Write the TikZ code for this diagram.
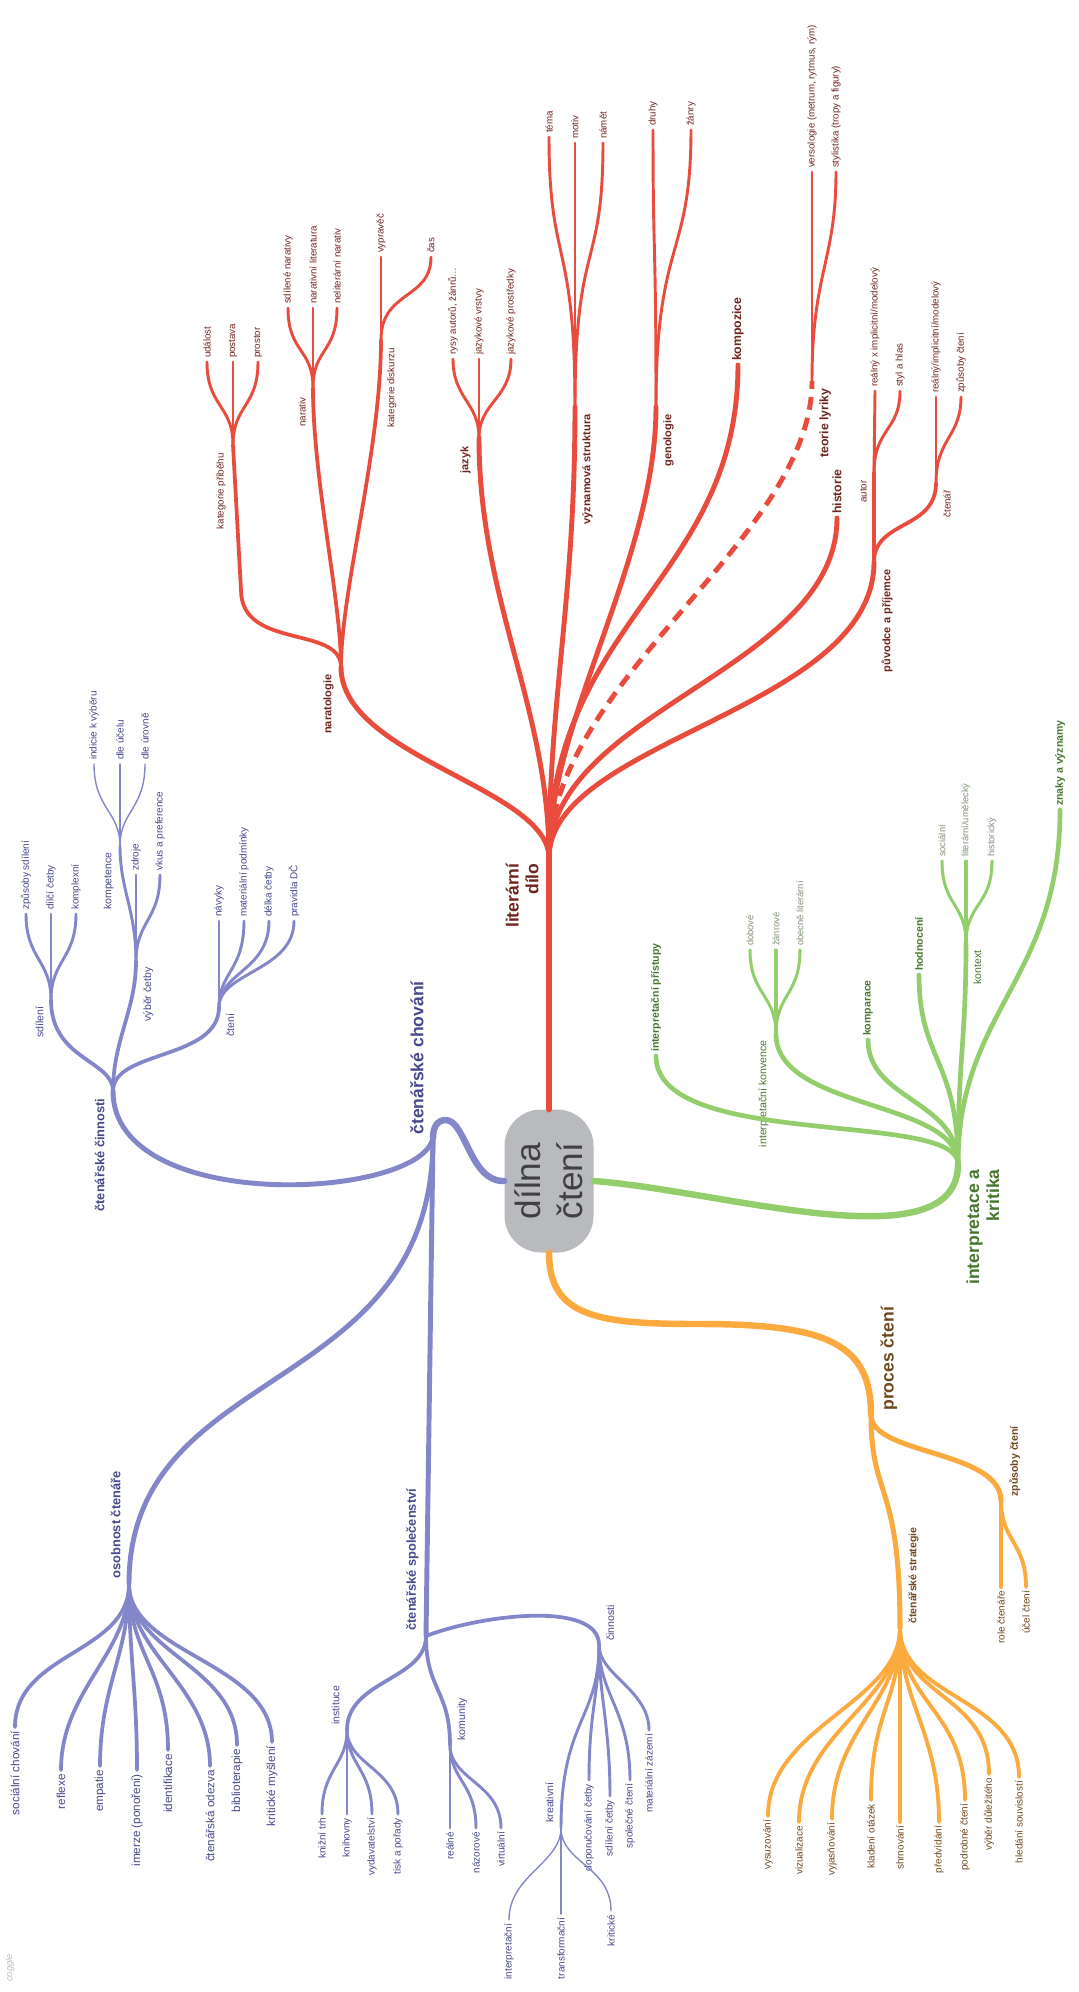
\documentclass[tikz,border=0pt]{standalone}
\usepackage{fontspec}
\setmainfont{Liberation Sans}
\usetikzlibrary{positioning}

\definecolor{litred}{RGB}{233,76,60}
\definecolor{littext}{RGB}{112,36,30}
\definecolor{chovline}{RGB}{131,135,201}
\definecolor{chovtext}{RGB}{72,72,140}
\definecolor{intline}{RGB}{148,206,108}
\definecolor{inttext}{RGB}{72,118,46}
\definecolor{intleaf}{RGB}{128,146,118}
\definecolor{procline}{RGB}{250,170,62}
\definecolor{proctext}{RGB}{110,72,30}
\definecolor{hubfill}{RGB}{184,186,190}
\definecolor{hubtext}{RGB}{64,64,66}

\begin{document}
\begin{tikzpicture}[x=0.3mm, y=-0.3mm,
    txt/.style={rotate=90, inner sep=1pt},
    txtup/.style={txt, anchor=west, outer sep=2.5pt},
    txtdown/.style={txt, anchor=east, outer sep=2.5pt},
    hubbox/.style={fill=hubfill, rounded corners=11mm, minimum width=26.7mm, minimum height=42.9mm, inner sep=0pt},
    hubtxt/.style={rotate=90, text=hubtext, align=center, font=\fontsize{30}{36}\selectfont},
    mainlab/.style={txt, align=right, font=\bfseries\fontsize{15}{17}\selectfont},
    % lines
    redtrunk/.style={draw=litred, line width=5.5pt, line cap=round},
    redmain/.style={draw=litred, line width=4.2pt, line cap=round},
    redsub/.style={draw=litred, line width=3.2pt, line cap=round},
    redtwig/.style={draw=litred, line width=2.5pt, line cap=round},
    chovmain/.style={draw=chovline, line width=5.5pt, line cap=round},
    chovbranch/.style={draw=chovline, line width=4.2pt, line cap=round},
    chovsub/.style={draw=chovline, line width=3.2pt, line cap=round},
    chovtwig/.style={draw=chovline, line width=2.5pt, line cap=round},
    chovthin/.style={draw=chovline, line width=1.2pt, line cap=round},
    intmain/.style={draw=intline, line width=5.5pt, line cap=round},
    intbranch/.style={draw=intline, line width=4pt, line cap=round},
    inttwig/.style={draw=intline, line width=2.6pt, line cap=round},
    procmain/.style={draw=procline, line width=5.5pt, line cap=round},
    procbranch/.style={draw=procline, line width=4.3pt, line cap=round},
    proctwig/.style={draw=procline, line width=3.3pt, line cap=round},
    % texts
    redhead/.style={txt, text=littext, font=\bfseries\fontsize{9.4}{11}\selectfont},
    redbig/.style={txtup, text=littext, font=\bfseries\fontsize{10.5}{12}\selectfont},
    redmid/.style={txt, text=littext, font=\fontsize{8.3}{10}\selectfont},
    redleaf/.style={txtup, text=littext, font=\fontsize{8.3}{10}\selectfont},
    chovhead/.style={txt, text=chovtext, font=\bfseries\fontsize{11}{13}\selectfont},
    chovmid/.style={txt, text=chovtext, font=\fontsize{9}{11}\selectfont},
    chovleaf/.style={txtup, text=chovtext, font=\fontsize{8.5}{10}\selectfont},
    chovhang/.style={txtdown, text=chovtext, font=\fontsize{8.5}{10}\selectfont},
    chovbig/.style={txtdown, text=chovtext, font=\fontsize{10}{12}\selectfont},
    inthead/.style={txtup, text=inttext, font=\bfseries\fontsize{9}{11}\selectfont},
    intmid/.style={txt, text=inttext, font=\fontsize{9}{11}\selectfont},
    intleaftxt/.style={txtup, text=intleaf, font=\fontsize{8}{9.5}\selectfont},
    prochead/.style={txt, text=proctext, font=\bfseries\fontsize{9}{11}\selectfont},
    procleaf/.style={txtdown, text=proctext, font=\fontsize{8.5}{10}\selectfont}
]
\useasboundingbox (0,0) rectangle (1078,1992);

% centre
\node[hubbox] (hub)  at (549,1181) {};
\node[hubtxt] (hubT) at (hub.center) {dílna\\čtení};

% ---------------- literární dílo ----------------
\coordinate (root)   at (549,858);
\coordinate (narat)  at (341,667);
\coordinate (kprib)  at (233,445);
\coordinate (kpbend) at (241,590);
\coordinate (narativ) at (313,388);
\coordinate (kdisk)  at (381,340);
\coordinate (jazyk)  at (479,438);
\coordinate (vyzn)   at (575,407);
\coordinate (genol)  at (656,407);
\coordinate (teorie) at (812,381);
\coordinate (puvod)  at (874,562);
\coordinate (autor)  at (874,473);
\coordinate (ctenar) at (936,483);

\node[mainlab, text=littext, anchor=south east] (litL) at (540,862) {literární\\dílo};
\node[redhead, anchor=south east] (naratL) at (335,673) {naratologie};
\node[redmid, anchor=south east] (kpribL) at (227,452) {kategorie příběhu};
\node[redmid, anchor=south east] (narativL) at (307,396) {narativ};
\node[redmid, anchor=north east] (kdiskL) at (386,347) {kategorie diskurzu};
\node[redhead, anchor=south east] (jazykL) at (472,445) {jazyk};
\node[redhead, anchor=north east] (vyznL) at (581,413) {významová struktura};
\node[redhead, anchor=north east] (genolL) at (662,413) {genologie};
\node[redhead, font=\bfseries\fontsize{10.5}{12}\selectfont, anchor=north east] (teorieL) at (818,387) {teorie lyriky};
\node[redhead, anchor=north east] (puvodL) at (880,568) {původce a příjemce};
\node[redmid, anchor=south east] (autorL) at (868,479) {autor};
\node[redmid, anchor=north east] (ctenarL) at (942,489) {čtenář};
\node[redbig] (kompoz) at (738,365) {kompozice};
\node[redbig] (hist)   at (837,518) {historie};

\node[redleaf] (udal)   at (207,362) {událost};
\node[redleaf] (post)   at (233,362) {postava};
\node[redleaf] (prost)  at (258,362) {prostor};
\node[redleaf] (sdnar)  at (288,308) {sdílené narativy};
\node[redleaf] (narlit) at (313,308) {narativní literatura};
\node[redleaf] (nelit)  at (337,308) {neliterární narativ};
\node[redleaf] (vypr)   at (381,257) {vypravěč};
\node[redleaf] (cas)    at (431,257) {čas};
\node[redleaf] (rysy)   at (453,359) {rysy autorů, žánrů…};
\node[redleaf] (vrstvy) at (479,359) {jazykové vrstvy};
\node[redleaf] (prostr) at (511,359) {jazykové prostředky};
\node[redleaf] (tema)   at (549,137) {téma};
\node[redleaf] (motiv)  at (575,143) {motiv};
\node[redleaf] (namet)  at (603,143) {námět};
\node[redleaf] (druhy)  at (653,130) {druhy};
\node[redleaf] (zanry)  at (691,130) {žánry};
\node[redleaf] (verso)  at (812,172) {versologie (metrum, rytmus, rým)};
\node[redleaf] (styl)   at (836,172) {stylistika (tropy a figury)};
\node[redleaf] (realA)  at (875,391) {reálný x implicitní/modelový};
\node[redleaf] (hlas)   at (900,391) {styl a hlas};
\node[redleaf] (realC)  at (936,397) {reálný/implicitní/modelový};
\node[redleaf] (zpusC)  at (961,397) {způsoby čtení};

\draw[redtrunk] (hub.north) -- (root);
\draw[redmain] (root) .. controls (549,788) and (341,757) .. (narat);
\draw[redmain] (root) .. controls (549,708) and (479,600) .. (jazyk);
\draw[redmain] (root) .. controls (549,700) and (575,600) .. (vyzn);
\draw[redmain] (root) .. controls (549,720) and (656,560) .. (genol);
\draw[redmain] (root) .. controls (549,620) and (738,580) .. (kompoz.west);
\draw[redmain, line cap=butt, dash pattern=on 11pt off 7pt] (root) .. controls (549,680) and (812,540) .. (teorie);
\draw[redmain] (root) .. controls (549,710) and (837,670) .. (hist.west);
\draw[redmain] (root) .. controls (549,740) and (874,710) .. (puvod);

\draw[redsub] (narat) .. controls (341,625) and (241,650) .. (kpbend) -- (kprib);
\draw[redsub] (narat) .. controls (341,600) and (313,480) .. (narativ);
\draw[redsub] (narat) .. controls (341,590) and (381,450) .. (kdisk);
\draw[redsub] (puvod) -- (autor);
\draw[redsub] (puvod) .. controls (874,520) and (936,530) .. (ctenar);

\draw[redtwig] (kprib) .. controls +(0,-40) and +(0,45) .. (udal.west);
\draw[redtwig] (kprib) -- (post.west);
\draw[redtwig] (kprib) .. controls +(0,-40) and +(0,45) .. (prost.west);
\draw[redtwig] (narativ) .. controls +(0,-40) and +(0,45) .. (sdnar.west);
\draw[redtwig] (narativ) -- (narlit.west);
\draw[redtwig] (narativ) .. controls +(0,-40) and +(0,45) .. (nelit.west);
\draw[redtwig] (kdisk) -- (vypr.west);
\draw[redtwig] (kdisk) .. controls (381,290) and (431,300) .. (cas.west);
\draw[redtwig] (jazyk) .. controls +(0,-36) and +(0,40) .. (rysy.west);
\draw[redtwig] (jazyk) -- (vrstvy.west);
\draw[redtwig] (jazyk) .. controls +(0,-36) and +(0,40) .. (prostr.west);
\draw[redtwig] (vyzn) .. controls +(0,-170) and +(0,130) .. (tema.west);
\draw[redtwig] (vyzn) -- (motiv.west);
\draw[redtwig] (vyzn) .. controls +(0,-170) and +(0,130) .. (namet.west);
\draw[redtwig] (genol) .. controls +(0,-170) and +(0,130) .. (druhy.west);
\draw[redtwig] (genol) .. controls +(0,-170) and +(0,130) .. (zanry.west);
\draw[redtwig] (teorie) -- (verso.west);
\draw[redtwig] (teorie) .. controls +(0,-110) and +(0,90) .. (styl.west);
\draw[redtwig] (autor) -- (realA.west);
\draw[redtwig] (autor) .. controls +(0,-45) and +(0,40) .. (hlas.west);
\draw[redtwig] (ctenar) -- (realC.west);
\draw[redtwig] (ctenar) .. controls +(0,-45) and +(0,40) .. (zpusC.west);

% ---------------- čtenářské chování ----------------
\coordinate (hump)  at (446,1120);
\coordinate (chov)  at (433,1138);
\coordinate (cinn)  at (113,1091);
\coordinate (osob)  at (129,1584);
\coordinate (spol)  at (426,1636);
\coordinate (sdil)  at (51,1000);
\coordinate (vyber) at (136,961);
\coordinate (cteni) at (219,1007);
\coordinate (kompet) at (120,846);
\coordinate (instit) at (347,1730);
\coordinate (komun)  at (450,1745);
\coordinate (cinnosti) at (599,1645);
\coordinate (kreat)  at (561,1828);

\node[mainlab, text=chovtext, anchor=south west] (chovL) at (425,1136) {čtenářské chování};
\node[chovhead, anchor=south east] (cinnL) at (106,1097) {čtenářské činnosti};
\node[chovhead, anchor=south west] (osobL) at (122,1580) {osobnost čtenáře};
\node[chovhead, anchor=south west] (spolL) at (420,1632) {čtenářské společenství};
\node[chovmid, anchor=south east] (sdilL) at (45,1005) {sdílení};
\node[chovmid, anchor=north east] (vyberL) at (142,966) {výběr četby};
\node[chovmid, anchor=north east] (cteniL) at (225,1012) {čtení};
\node[chovmid, anchor=south east] (kompetL) at (115,851) {kompetence};
\node[chovmid, anchor=south west] (institL) at (341,1726) {instituce};
\node[chovmid, anchor=north west] (komunL) at (456,1742) {komunity};
\node[chovmid, anchor=north west] (cinnostiL) at (605,1642) {činnosti};
\node[chovmid, anchor=south west] (kreatL) at (555,1824) {kreativní};

\node[chovleaf] (zpsd)  at (26,914)  {způsoby sdílení};
\node[chovleaf] (dilci) at (51,914)  {dílčí četby};
\node[chovleaf] (kompl) at (76,914)  {komplexní};
\node[chovleaf] (zdroje) at (136,875) {zdroje};
\node[chovleaf] (vkus)  at (160,875) {vkus a preference};
\node[chovleaf] (indic) at (94,764)  {indicie k výběru};
\node[chovleaf] (ucelu) at (120,764) {dle účelu};
\node[chovleaf] (urovn) at (145,764) {dle úrovně};
\node[chovleaf] (navyk) at (219,921) {návyky};
\node[chovleaf] (matpod) at (244,921) {materiální podmínky};
\node[chovleaf] (delka) at (269,921) {délka četby};
\node[chovleaf] (pravid) at (294,921) {pravidla DČ};

\node[chovbig] (socch)  at (15,1727)  {sociální chování};
\node[chovbig] (reflex) at (61,1770)  {reflexe};
\node[chovbig] (empat)  at (100,1766) {empatie};
\node[chovbig] (imerze) at (137,1770) {imerze (ponoření)};
\node[chovbig] (ident)  at (168,1750) {identifikace};
\node[chovbig] (odezva) at (210,1766) {čtenářská odezva};
\node[chovbig] (biblio) at (237,1745) {biblioterapie};
\node[chovbig] (kritm)  at (272,1742) {kritické myšlení};

\node[chovhang] (kntrh)  at (322,1814) {knižní trh};
\node[chovhang] (knihov) at (347,1814) {knihovny};
\node[chovhang] (vydav)  at (372,1814) {vydavatelství};
\node[chovhang] (tisk)   at (398,1814) {tisk a pořady};
\node[chovhang] (realne) at (450,1828) {reálné};
\node[chovhang] (nazor)  at (476,1828) {názorové};
\node[chovhang] (virt)   at (501,1828) {virtuální};
\node[chovhang] (doporuc) at (589,1780) {doporučování četby};
\node[chovhang] (sdcet)  at (610,1796) {sdílení četby};
\node[chovhang] (spolct) at (630,1780) {společné čtení};
\node[chovhang] (matzaz) at (649,1730) {materiální zázemí};
\node[chovhang] (interp) at (509,1920) {interpretační};
\node[chovhang] (transf) at (561,1914) {transformační};
\node[chovhang] (krit)   at (611,1911) {kritické};

\draw[chovmain] (hub.west) .. controls (470,1182) and (466,1121) .. (hump) .. controls (438,1120) and (433,1126) .. (chov);
\draw[chovbranch] (chov) .. controls (420,1200) and (113,1215) .. (cinn);
\draw[chovbranch] (chov) .. controls (433,1400) and (129,1360) .. (osob);
\draw[chovbranch] (chov) -- (spol);

\draw[chovsub] (cinn) .. controls (113,1060) and (51,1060) .. (sdil);
\draw[chovsub] (cinn) .. controls (113,1040) and (136,1010) .. (vyber);
\draw[chovsub] (cinn) .. controls (113,1050) and (219,1060) .. (cteni);
\draw[chovsub] (spol) .. controls (426,1680) and (347,1680) .. (instit);
\draw[chovsub] (spol) .. controls (426,1690) and (450,1690) .. (komun);
\draw[chovsub] (spol) .. controls (480,1615) and (599,1600) .. (cinnosti);
\draw[chovtwig] (vyber) .. controls (136,910) and (120,890) .. (kompet);
\draw[chovtwig] (cinnosti) .. controls (599,1720) and (561,1720) .. (kreat);

\draw[chovtwig] (sdil) .. controls +(0,-40) and +(0,45) .. (zpsd.west);
\draw[chovtwig] (sdil) -- (dilci.west);
\draw[chovtwig] (sdil) .. controls +(0,-40) and +(0,45) .. (kompl.west);
\draw[chovtwig] (vyber) -- (zdroje.west);
\draw[chovtwig] (vyber) .. controls +(0,-40) and +(0,45) .. (vkus.west);
\draw[chovthin] (kompet) .. controls +(0,-35) and +(0,45) .. (indic.west);
\draw[chovthin] (kompet) -- (ucelu.west);
\draw[chovthin] (kompet) .. controls +(0,-35) and +(0,45) .. (urovn.west);
\draw[chovtwig] (cteni) -- (navyk.west);
\draw[chovtwig] (cteni) .. controls +(0,-35) and +(0,50) .. (matpod.west);
\draw[chovtwig] (cteni) .. controls +(0,-35) and +(0,50) .. (delka.west);
\draw[chovtwig] (cteni) .. controls +(0,-35) and +(0,50) .. (pravid.west);

\draw[chovsub] (osob) .. controls +(0,70) and +(0,-75) .. (socch.east);
\draw[chovsub] (osob) .. controls +(0,70) and +(0,-80) .. (reflex.east);
\draw[chovsub] (osob) .. controls +(0,70) and +(0,-80) .. (empat.east);
\draw[chovsub] (osob) .. controls +(0,70) and +(0,-80) .. (imerze.east);
\draw[chovsub] (osob) .. controls +(0,70) and +(0,-80) .. (ident.east);
\draw[chovsub] (osob) .. controls +(0,70) and +(0,-80) .. (odezva.east);
\draw[chovsub] (osob) .. controls +(0,70) and +(0,-80) .. (biblio.east);
\draw[chovsub] (osob) .. controls +(0,70) and +(0,-80) .. (kritm.east);

\draw[chovtwig] (instit) .. controls +(0,35) and +(0,-45) .. (kntrh.east);
\draw[chovtwig] (instit) -- (knihov.east);
\draw[chovtwig] (instit) .. controls +(0,35) and +(0,-45) .. (vydav.east);
\draw[chovtwig] (instit) .. controls +(0,35) and +(0,-45) .. (tisk.east);
\draw[chovtwig] (komun) -- (realne.east);
\draw[chovtwig] (komun) .. controls +(0,35) and +(0,-45) .. (nazor.east);
\draw[chovtwig] (komun) .. controls +(0,35) and +(0,-45) .. (virt.east);
\draw[chovtwig] (cinnosti) .. controls +(0,50) and +(0,-70) .. (doporuc.east);
\draw[chovtwig] (cinnosti) .. controls +(0,50) and +(0,-70) .. (sdcet.east);
\draw[chovtwig] (cinnosti) .. controls +(0,50) and +(0,-70) .. (spolct.east);
\draw[chovtwig] (cinnosti) .. controls +(0,30) and +(0,-40) .. (matzaz.east);
\draw[chovthin] (kreat) .. controls +(0,35) and +(0,-45) .. (interp.east);
\draw[chovthin] (kreat) -- (transf.east);
\draw[chovthin] (kreat) .. controls +(0,35) and +(0,-45) .. (krit.east);

% ---------------- interpretace a kritika ----------------
\coordinate (ik)   at (958,1164);
\coordinate (konv) at (776,1034);
\coordinate (kontext) at (966,943);

\node[mainlab, text=inttext, anchor=north east] (ikL) at (965,1168) {interpretace a\\kritika};
\node[intmid, anchor=south east] (konvL) at (770,1039) {interpretační konvence};
\node[intmid, anchor=north east] (kontextL) at (972,949) {kontext};
\node[inthead] (ipr)    at (656,1056) {interpretační přístupy};
\node[inthead] (kompar) at (868,1040) {komparace};
\node[inthead] (hodn)   at (919,975)  {hodnocení};
\node[inthead] (znaky)  at (1060,810) {znaky a významy};
\node[intleaftxt] (dob)   at (750,950) {dobové};
\node[intleaftxt] (zanr)  at (776,950) {žánrové};
\node[intleaftxt] (obec)  at (800,950) {obecně literární};
\node[intleaftxt] (soc)   at (942,861) {sociální};
\node[intleaftxt] (litum) at (966,861) {literární/umělecký};
\node[intleaftxt] (histk) at (992,861) {historický};

\draw[intmain] (hub.east) .. controls (720,1190) and (958,1265) .. (ik);
\draw[intbranch] (ik) .. controls (958,1110) and (656,1150) .. (ipr.west);
\draw[intbranch] (ik) .. controls (958,1100) and (776,1110) .. (konv);
\draw[intbranch] (ik) .. controls (958,1100) and (868,1100) .. (kompar.west);
\draw[intbranch] (ik) .. controls (958,1060) and (919,1060) .. (hodn.west);
\draw[intbranch] (ik) .. controls (958,1060) and (966,1040) .. (kontext);
\draw[intbranch] (ik) .. controls (958,1010) and (1060,980) .. (znaky.west);
\draw[inttwig] (konv) .. controls +(0,-40) and +(0,45) .. (dob.west);
\draw[inttwig] (konv) -- (zanr.west);
\draw[inttwig] (konv) .. controls +(0,-40) and +(0,45) .. (obec.west);
\draw[inttwig] (kontext) .. controls +(0,-40) and +(0,45) .. (soc.west);
\draw[inttwig] (kontext) -- (litum.west);
\draw[inttwig] (kontext) .. controls +(0,-40) and +(0,45) .. (histk.west);

% ---------------- proces čtení ----------------
\coordinate (pbend) at (700,1324);
\coordinate (proc)  at (871,1415);
\coordinate (strat) at (900,1628);
\coordinate (zpus)  at (1001,1501);

\node[mainlab, text=proctext, anchor=north west] (procL) at (879,1412) {proces čtení};
\node[prochead, anchor=north west] (stratL) at (907,1625) {čtenářské strategie};
\node[prochead, anchor=north west] (zpusL)  at (1008,1498) {způsoby čtení};

\node[procleaf] (role)  at (1001,1587) {role čtenáře};
\node[procleaf] (ucel)  at (1026,1587) {účel čtení};
\node[procleaf] (vysuz) at (768,1816)  {vysuzování};
\node[procleaf] (vizu)  at (799,1822)  {vizualizace};
\node[procleaf] (vyjas) at (832,1819)  {vyjasňování};
\node[procleaf] (klad)  at (871,1800)  {kladení otázek};
\node[procleaf] (shrn)  at (900,1822)  {shrnování};
\node[procleaf] (predv) at (939,1822)  {předvídání};
\node[procleaf] (podr)  at (965,1800)  {podrobné čtení};
\node[procleaf] (vybd)  at (989,1774)  {výběr důležitého};
\node[procleaf] (hled)  at (1019,1777) {hledání souvislostí};

\draw[procmain] (hub.south) .. controls (549,1318) and (600,1324) .. (pbend) .. controls (830,1324) and (871,1345) .. (proc);
\draw[procbranch] (proc) .. controls (871,1500) and (900,1480) .. (strat);
\draw[procbranch] (proc) .. controls (871,1455) and (1001,1450) .. (zpus);
\draw[proctwig] (zpus) -- (role.east);
\draw[proctwig] (zpus) .. controls +(0,40) and +(0,-45) .. (ucel.east);
\draw[proctwig] (strat) .. controls +(0,75) and +(0,-90) .. (vysuz.east);
\draw[proctwig] (strat) .. controls +(0,75) and +(0,-90) .. (vizu.east);
\draw[proctwig] (strat) .. controls +(0,75) and +(0,-90) .. (vyjas.east);
\draw[proctwig] (strat) .. controls +(0,75) and +(0,-90) .. (klad.east);
\draw[proctwig] (strat) -- (shrn.east);
\draw[proctwig] (strat) .. controls +(0,75) and +(0,-90) .. (predv.east);
\draw[proctwig] (strat) .. controls +(0,75) and +(0,-90) .. (podr.east);
\draw[proctwig] (strat) .. controls +(0,70) and +(0,-80) .. (vybd.east);
\draw[proctwig] (strat) .. controls +(0,70) and +(0,-80) .. (hled.east);

\node[txt, text=black!25, font=\itshape\fontsize{8}{9}\selectfont] (logo) at (10,1968) {coggle};
\end{tikzpicture}
\end{document}
